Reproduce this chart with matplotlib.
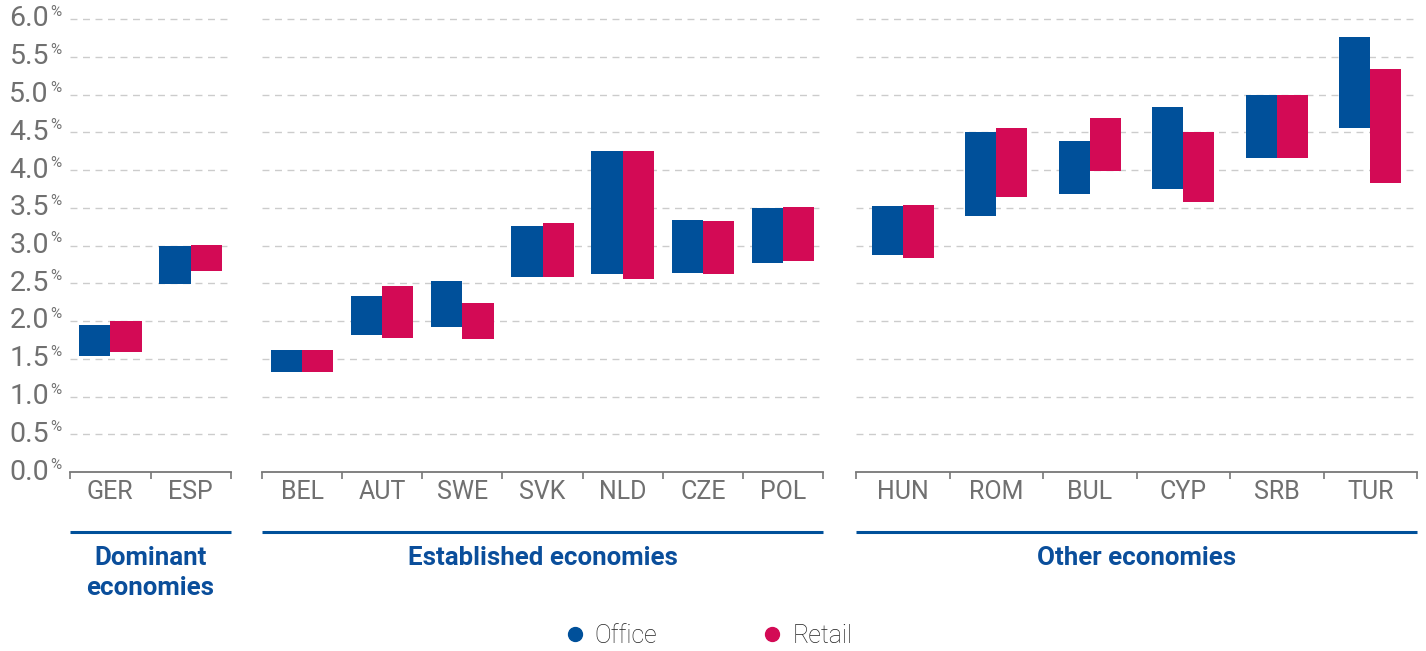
import matplotlib

matplotlib.use("Agg")
import matplotlib.pyplot as plt
from matplotlib.lines import Line2D
from matplotlib.transforms import blended_transform_factory, offset_copy

# ---- data (yield ranges, %) ----
groups = ["Dominant\neconomies", "Established economies", "Other economies"]

dominant = ["GER", "ESP"]
dom_office_low = [1.54, 2.49]
dom_office_high = [1.95, 3.00]
dom_retail_low = [1.59, 2.66]
dom_retail_high = [2.00, 3.01]

established = ["BEL", "AUT", "SWE", "SVK", "NLD", "CZE", "POL"]
est_office_low = [1.32, 1.82, 1.92, 2.58, 2.62, 2.63, 2.77]
est_office_high = [1.62, 2.33, 2.53, 3.26, 4.25, 3.34, 3.50]
est_retail_low = [1.32, 1.78, 1.76, 2.58, 2.56, 2.62, 2.80]
est_retail_high = [1.62, 2.47, 2.24, 3.30, 4.25, 3.33, 3.51]

other = ["HUN", "ROM", "BUL", "CYP", "SRB", "TUR"]
oth_office_low = [2.87, 3.39, 3.68, 3.75, 4.16, 4.56]
oth_office_high = [3.52, 4.50, 4.39, 4.84, 5.00, 5.76]
oth_retail_low = [2.83, 3.64, 3.99, 3.58, 4.16, 3.83]
oth_retail_high = [3.54, 4.56, 4.69, 4.50, 5.00, 5.34]

yticks = [0.0, 0.5, 1.0, 1.5, 2.0, 2.5, 3.0, 3.5, 4.0, 4.5, 5.0, 5.5, 6.0]

BLUE = "#00509a"
RED = "#d30a55"
GROUP_BLUE = "#0a4e9b"
GREY = "#707070"
FONT = "Roboto"

plt.rcParams["font.family"] = FONT

fig = plt.figure(figsize=(14.26, 6.51), dpi=100)

W = 1426.0
H = 651.0
bottom = 1 - 472 / H
height = (472 - 19) / H

panels = [
    (dominant, dom_office_low, dom_office_high, dom_retail_low, dom_retail_high,
     70, 231, 0.39),
    (established, est_office_low, est_office_high, est_retail_low, est_retail_high,
     262, 823, 0.39),
    (other, oth_office_low, oth_office_high, oth_retail_low, oth_retail_high,
     856, 1417, 0.33),
]

axes = []
for k, (cats, ol, oh, rl, rh, x0, x1, bw) in enumerate(panels):
    ax = fig.add_axes([x0 / W, bottom, (x1 - x0) / W, height])
    axes.append(ax)
    n = len(cats)
    xs = list(range(n))
    ax.bar([x - bw / 2 for x in xs], [h - l for l, h in zip(ol, oh)], bottom=ol,
           width=bw, color=BLUE, zorder=3)
    ax.bar([x + bw / 2 for x in xs], [h - l for l, h in zip(rl, rh)], bottom=rl,
           width=bw, color=RED, zorder=3)
    ax.set_xlim(-0.5, n - 0.5)
    ax.set_ylim(0, 6.0)

    # dashed horizontal grid
    for y in yticks[1:]:
        ax.axhline(y, color="#cccccc", lw=1.0, ls=(0, (5, 4)), zorder=1,
                   clip_on=False)

    for side in ("left", "right", "top"):
        ax.spines[side].set_visible(False)
    ax.spines["bottom"].set_color("#777777")
    ax.spines["bottom"].set_linewidth(1.3)

    ax.set_xticks(xs)
    ax.set_xticklabels(cats, fontsize=18, color=GREY)
    ax.tick_params(axis="x", which="major", length=0, pad=6)
    ax.set_xticks([x - 0.5 for x in range(n + 1)], minor=True)
    ax.tick_params(axis="x", which="minor", length=5, width=1.2,
                   color="#777777", direction="out")
    ax.set_yticks([])

    # group bracket line and label
    ax.plot([0, 1], [-0.1325, -0.1325], transform=ax.transAxes,
            color=BLUE, lw=2.2, clip_on=False, solid_capstyle="butt")
    ax.text(0.5, -0.163, groups[k], transform=ax.transAxes, ha="center",
            va="top", fontsize=18.6, fontweight="bold", color=GROUP_BLUE,
            linespacing=1.3)

# y tick labels with small raised percent sign
ax = axes[0]
trans = blended_transform_factory(ax.transAxes, ax.transData)
num_tr = offset_copy(trans, fig=fig, x=-21, y=0, units="dots")
pct_tr = offset_copy(trans, fig=fig, x=-20, y=7, units="dots")
for y in yticks:
    ax.text(0, y, f"{y:.1f}", transform=num_tr, ha="right", va="center",
            fontsize=20.5, color=GREY)
    ax.text(0, y, "%", transform=pct_tr, ha="left", va="center",
            fontsize=11, color=GREY)

# legend
handles = [
    Line2D([], [], ls="none", marker="o", markersize=10, color=BLUE, label="Office"),
    Line2D([], [], ls="none", marker="o", markersize=10, color=RED, label="Retail"),
]
leg = fig.legend(handles=handles, loc="center", bbox_to_anchor=(0.496, 0.023),
                 ncol=2, frameon=False, fontsize=18, handletextpad=0.3,
                 columnspacing=4.1, handlelength=1.0)
for t in leg.get_texts():
    t.set_color("#222222")
    t.set_fontweight("light")

fig.savefig("out.png", dpi=100)
